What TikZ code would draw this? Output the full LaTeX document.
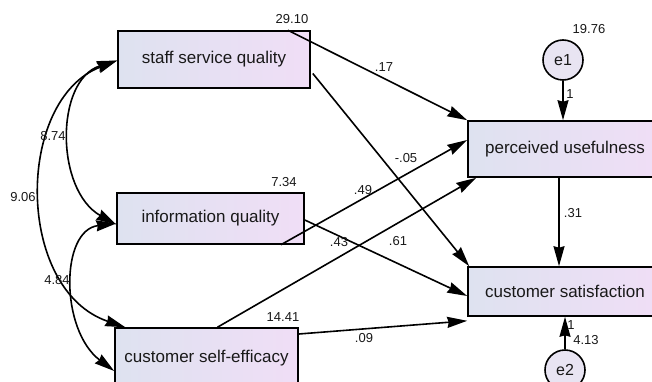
\documentclass[tikz,border=0pt]{standalone}
\usepackage{fontspec}
\setmainfont{Liberation Sans}
\usetikzlibrary{arrows.meta,calc}

\definecolor{boxL}{RGB}{222,226,240}
\definecolor{boxR}{RGB}{240,222,246}
\definecolor{errfill}{RGB}{232,228,242}
\definecolor{ink}{RGB}{25,25,25}

\tikzset{
  tip/.tip={Stealth[length=20pt,width=11pt,inset=1.5pt]},
  var/.style={draw=black, line width=1.6pt, left color=boxL, right color=boxR,
    inner sep=0pt, font=\fontsize{17}{20}\selectfont, text=ink},
  err/.style={draw=black, line width=1.6pt, circle, fill=errfill,
    minimum size=40pt, inner sep=0pt, font=\fontsize{16}{19}\selectfont, text=ink},
  lbl/.style={font=\fontsize{13}{15}\selectfont, text=ink, inner sep=0pt},
  path/.style={line width=1.6pt, -tip},
  cov/.style={line width=1.6pt, tip-tip}
}

\begin{document}
\begin{tikzpicture}[x=1pt,y=-1pt]
\useasboundingbox (0,0) rectangle (652,382);
\clip (0,0) rectangle (652,382);
\fill[white] (0,0) rectangle (652,382);

% observed variables
\node[var, minimum width=192pt, minimum height=57pt] (ssq) at (214,59.5) {staff service quality};
\node[var, minimum width=187pt, minimum height=51pt] (iq)  at (210.5,218.5) {information quality};
\node[var, minimum width=183pt, minimum height=60pt] (cse) at (206.5,358) {customer self-efficacy};
\node[var, minimum width=194pt, minimum height=56pt] (pu)  at (565,149) {perceived usefulness};
\node[var, minimum width=194pt, minimum height=49pt] (cs)  at (565,291.5) {customer satisfaction};

% error terms
\node[err] (e1) at (563,60) {e1};
\node[err] (e2) at (565,370) {e2};

% covariances
\draw[cov] ([yshift=-1pt]ssq.west) .. controls (15,100) and (15,290) .. ([xshift=11pt]cse.north west);
\draw[cov] ([yshift=-1pt]ssq.west) .. controls (55,80) and (55,190) .. ([yshift=-6pt]iq.west);
\draw[cov] ([yshift=-5pt]iq.west) .. controls (60,230) and (60,330) .. ([yshift=-13pt]cse.west);

% regression paths
\draw[path] ([xshift=-23pt]ssq.north east) -- (pu.north west);
\draw[path] ([xshift=2pt,yshift=-14pt]ssq.east) -- ([xshift=2pt]cs.north west);
\draw[path] ([xshift=-24pt]iq.south east) -- ([yshift=9pt]pu.west);
\draw[path] ([yshift=-1.5pt]iq.east) -- ([yshift=-4.5pt]cs.west);
\draw[path] ([xshift=11pt]cse.north) -- ([xshift=9pt]pu.south west);
\draw[path] ([yshift=24pt]cse.east) -- ([yshift=-4pt]cs.south west);
\draw[path] ([xshift=-6pt]pu.south) -- ([xshift=-6pt]cs.north);
\draw[path] (e1) -- (e1 |- pu.north);
\draw[path] (e2) -- (e2 |- cs.south);

% estimates
\node[lbl] (l2910) at (292,19) {29.10};
\node[lbl] (l734)  at (284,182) {7.34};
\node[lbl] (l1441) at (283,317) {14.41};
\node[lbl] (l1976) at (589,29) {19.76};
\node[lbl] (l413)  at (586,340) {4.13};
\node[lbl] (l874)  at (53,136) {8.74};
\node[lbl] (l906)  at (23,197) {9.06};
\node[lbl] (l484)  at (57,280) {4.84};
\node[lbl] (l17)   at (384,67) {.17};
\node[lbl] (l05)   at (406,158) {-.05};
\node[lbl] (l49)   at (363,190) {.49};
\node[lbl] (l61)   at (398,241) {.61};
\node[lbl] (l43)   at (339,242) {.43};
\node[lbl] (l09)   at (364,338) {.09};
\node[lbl] (l31)   at (573,213) {.31};
\node[lbl] (l1a)   at (570,94) {1};
\node[lbl] (l1b)   at (571,325) {1};
\end{tikzpicture}
\end{document}
